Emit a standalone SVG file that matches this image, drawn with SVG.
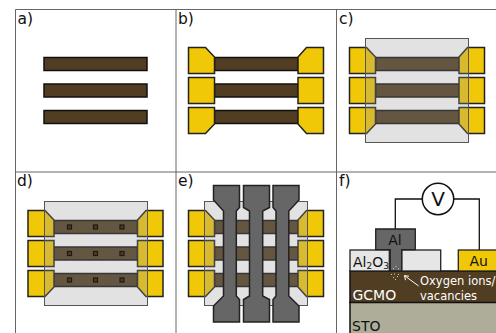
<svg xmlns="http://www.w3.org/2000/svg" width="496" height="333" viewBox="0 0 496 333">
<defs>
<style>
.f{fill:none;stroke:#666;stroke-width:1}
.bar{fill:#513d21;stroke:#111;stroke-width:1.5}
.pad{fill:#f0c808;stroke:#222;stroke-width:1.5}
.ox{fill:#969696;fill-opacity:.28;stroke:#555;stroke-width:1}
.gate{fill:#666;stroke:#222;stroke-width:1.5}
.via{fill:#513d21;stroke:#1a1a1a;stroke-width:1.2}
text{font-family:"DejaVu Sans",sans-serif;fill:#111}
.lb{font-size:15.5px}
.f14{font-size:14px}
.w{fill:#fff}
.w2{stroke:#111;stroke-width:1.3;fill:none}
</style>
<g id="bars">
<rect class="bar" x="214.500" y="57.500" width="83.500" height="13"/>
<rect class="bar" x="214.500" y="84" width="83.500" height="13"/>
<rect class="bar" x="214.500" y="110.500" width="83.500" height="13"/>
<path class="pad" d="M188.500 47.500H205.500L214.500 57V73.500H188.500Z"/>
<rect class="pad" x="188.500" y="77.500" width="26" height="26"/>
<path class="pad" d="M188.500 107.500H214.500V124L205.500 133.500H188.500Z"/>
<path class="pad" d="M323.500 47.500H306.500L298 57V73.500H323.500Z"/>
<rect class="pad" x="298" y="77.500" width="25.500" height="26"/>
<path class="pad" d="M323.500 107.500H298V124L306.500 133.500H323.500Z"/>
</g>
</defs>
<rect width="496" height="333" fill="#fff"/>
<g id="frame">
<path class="f" d="M15.500 333V9.500H496M176 9.500V333M336.500 9.500V333M15.500 172H496"/>
</g>
<g id="panel-a">
<text class="lb" x="17.500" y="23.500">a)</text>
<rect class="bar" x="44" y="57.500" width="103" height="13"/>
<rect class="bar" x="44" y="84" width="103" height="13"/>
<rect class="bar" x="44" y="110.500" width="103" height="13"/>
</g>
<g id="panel-b">
<text class="lb" x="178" y="23.500">b)</text>
<use href="#bars"/>
</g>
<g id="panel-c">
<text class="lb" x="339" y="23.500">c)</text>
<use href="#bars" x="161"/>
<rect class="ox" x="365.500" y="38.500" width="103" height="104"/>
</g>
<g id="panel-d">
<text class="lb" x="17" y="185.500">d)</text>
<use href="#bars" x="-160.500" y="163"/>
<rect class="ox" x="44.500" y="201.500" width="103" height="104"/>
<rect class="via" x="67.500" y="225" width="4" height="4"/><rect class="via" x="93.500" y="225" width="4" height="4"/><rect class="via" x="120" y="225" width="4" height="4"/>
<rect class="via" x="67.500" y="251.500" width="4" height="4"/><rect class="via" x="93.500" y="251.500" width="4" height="4"/><rect class="via" x="120" y="251.500" width="4" height="4"/>
<rect class="via" x="67.500" y="278" width="4" height="4"/><rect class="via" x="93.500" y="278" width="4" height="4"/><rect class="via" x="120" y="278" width="4" height="4"/>
</g>
<g id="panel-e">
<text class="lb" x="178" y="185.500">e)</text>
<use href="#bars" y="163"/>
<rect class="ox" x="204.500" y="201.500" width="103" height="104"/>
<path class="gate" d="M213.500 185.500H239.500V207.500L236.300 211V296L239.500 299.500V322H213.500V306L223.500 296V211L213.500 200Z"/>
<path class="gate" d="M243.500 185.500H269.500V207.500L262.700 211V296L269.500 299.500V322H243.500V299.500L249.500 296V211L243.500 207.500Z"/>
<path class="gate" d="M273 185.500H299V200L288.800 211V296L299 306V322H273V299.500L276 296V211L273 207.500Z"/>
</g>
<g id="panel-f">
<text class="lb" x="339" y="185.500">f)</text>
<path class="w2" d="M395.300 229V199H422.500M453.500 199H479.300V250"/>
<circle cx="438" cy="199" r="15.700" fill="#fff" stroke="#111" stroke-width="1.500"/>
<text x="438" y="206" font-size="20" text-anchor="middle">V</text>
<rect x="350" y="302" width="147" height="32" fill="#adad99" stroke="#111" stroke-width="1.500"/>
<rect x="350" y="271" width="147" height="31.500" fill="#513d21" stroke="#111" stroke-width="1.500"/>
<rect x="350" y="250" width="39.300" height="21" fill="#e6e6e6" stroke="#222" stroke-width="1.300"/>
<rect x="401.700" y="250" width="39" height="21" fill="#e6e6e6" stroke="#222" stroke-width="1.300"/>
<path d="M375.700 229H415.300V249.700H401.700V271H390.300V249.700H375.700Z" fill="#666" stroke="#222" stroke-width="1.300"/>
<rect x="458.300" y="250" width="38.700" height="21" fill="#f0c808" stroke="#222" stroke-width="1.300"/>
<text class="f14" x="395" y="244.500" text-anchor="middle">Al</text>
<text class="f14" x="478.700" y="265.500" text-anchor="middle">Au</text>
<text class="f14" x="353" y="266.500">Al<tspan font-size="9" dy="2.500">2</tspan><tspan dy="-2.500">O</tspan><tspan font-size="9" dy="2.500">3</tspan></text>
<text class="f14" x="352.500" y="299.500" style="fill:#fff">GCMO</text>
<text class="f14" x="352" y="331">STO</text>
<text x="420" y="284.500" font-size="11.500" style="fill:#fff">Oxygen ions/</text>
<text x="420" y="299.500" font-size="11.500" style="fill:#fff">vacancies</text>
<path d="M418.700 286L404.500 275.700M404.500 275.700l1 4.500M404.500 275.700l4.500 .5" stroke="#fff" stroke-width="1" fill="none"/>
<g fill="#ccc"><rect x="391" y="274" width="1" height="1"/><rect x="394" y="273.500" width="1" height="1"/><rect x="398" y="274" width="1" height="1"/><rect x="393" y="277" width="1" height="1"/><rect x="397" y="276" width="1" height="1"/><rect x="395" y="279" width="1" height="1"/><rect x="393" y="268" width="1" height="1"/><rect x="395.500" y="266" width="1" height="1"/><rect x="398" y="268.500" width="1" height="1"/></g>
</g>
</svg>
